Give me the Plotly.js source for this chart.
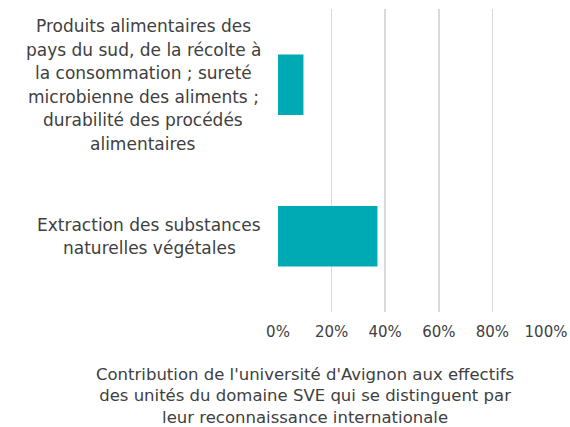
<!DOCTYPE html>
<html>
<head>
<meta charset="utf-8">
<script src="https://cdn.plot.ly/plotly-3.0.1.min.js"></script>
<style>html,body{margin:0;padding:0;background:#fff;}#chart{width:570px;height:427px;}</style>
</head>
<body>
<div id="chart"></div>
<script>
const categories = [
  'Extraction des substances<br>naturelles végétales',
  'Produits alimentaires des<br>pays du sud, de la récolte à<br>la consommation ; sureté<br>microbienne des aliments ;<br>durabilité des procédés<br>alimentaires'
];
const values = [0.371, 0.095];
const tickValues = [0, 0.2, 0.4, 0.6, 0.8, 1.0];
const tickLabels = ['0%', '20%', '40%', '60%', '80%', '100%'];
const xTitle = "Contribution de l'université d'Avignon aux effectifs<br>des unités du domaine SVE qui se distinguent par<br>leur reconnaissance internationale";

const FONT = '"DejaVu Sans", sans-serif';
const FS = 17;
const TXT = '#404040';
const ML = 278, MR = 24, W = 570, MT = 9, MB = 115, H = 427;
const PW = W - ML - MR, PH = H - MT - MB;
const LABEL_RIGHT = 261;
const LINE_H = 23.5;

const cv = document.createElement('canvas').getContext('2d');
cv.font = FS + 'px "DejaVu Sans"';

const annotations = [];
categories.forEach((c) => {
  const lines = c.split('<br>');
  const maxW = Math.max(...lines.map(l => cv.measureText(l).width));
  const cx = LABEL_RIGHT - maxW / 2;
  const n = lines.length;
  lines.forEach((l, j) => {
    annotations.push({
      text: l, xref: 'paper', yref: 'y', x: (cx - ML) / PW, y: c,
      xanchor: 'center', yanchor: 'middle', showarrow: false,
      yshift: ((n - 1) / 2 - j) * LINE_H,
      font: {family: FONT, size: FS, color: TXT}
    });
  });
});
annotations.push({
  text: xTitle, xref: 'paper', yref: 'paper', x: (305 - ML) / PW, y: -51 / PH,
  xanchor: 'center', yanchor: 'top', align: 'center', showarrow: false,
  font: {family: FONT, size: 16.5, color: TXT}
});

const data = [{
  type: 'bar', orientation: 'h', x: values, y: categories,
  marker: {color: '#00AAB4'}, hoverinfo: 'none'
}];

const layout = {
  width: W, height: H,
  margin: {l: ML, r: MR, t: MT, b: MB, pad: 0},
  paper_bgcolor: '#fff', plot_bgcolor: '#fff',
  showlegend: false, bargap: 0.6,
  font: {family: FONT, size: FS, color: TXT},
  xaxis: {
    range: [0, 1], tickvals: tickValues, ticktext: tickLabels,
    showgrid: true, gridcolor: '#d9d9d9', gridwidth: 1.5,
    zeroline: false, showline: false, ticks: '', fixedrange: true,
    ticklabelstandoff: 9,
    tickfont: {family: FONT, size: 15, color: TXT}
  },
  yaxis: {showticklabels: false, showgrid: false, zeroline: false, showline: false, ticks: '', fixedrange: true},
  annotations: annotations
};

Plotly.newPlot('chart', data, layout, {staticPlot: true, displayModeBar: false});
</script>
</body>
</html>
